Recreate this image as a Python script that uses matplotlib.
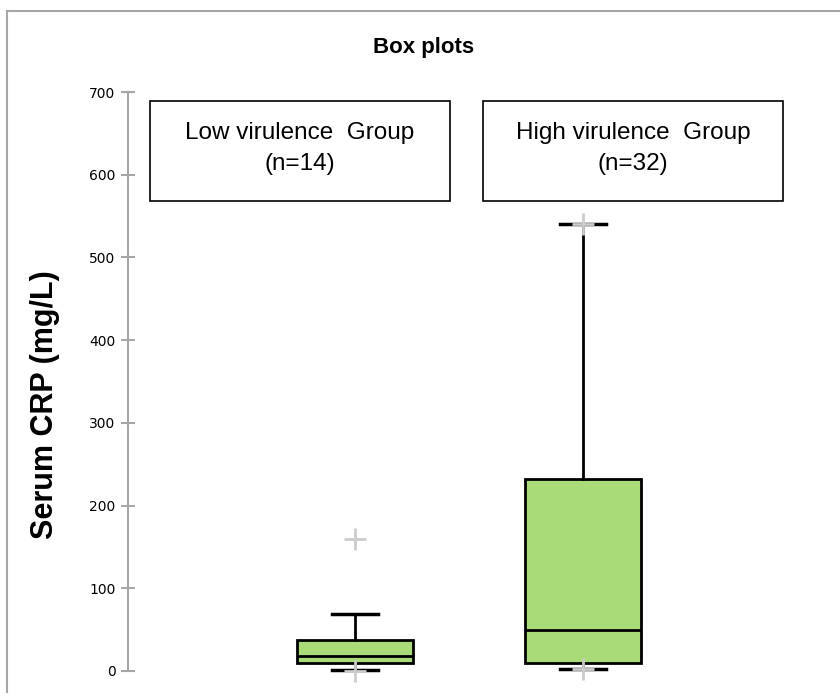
import matplotlib.pyplot as plt
from matplotlib.patches import Rectangle

# values (serum CRP, mg/L)
groups = ["Low virulence  Group\n(n=14)", "High virulence  Group\n(n=32)"]
q1 = [10, 10]
med = [18, 49]
q3 = [37, 232]
whislo = [1, 3]
whishi = [69, 540]
markers = [[160, 0], [540, 3]]   # grey min/max crosses
yticks = [0, 100, 200, 300, 400, 500, 600, 700]

fig = plt.figure(figsize=(8.4, 6.93), dpi=100)
W, H = 840, 693

# outer grey frame (runs off the right and bottom edges)
fig.patches.append(Rectangle((7 / W, -1), 2, 2 - 11 / H, transform=fig.transFigure,
                             fill=False, edgecolor='#a6a6a6', linewidth=1.5))

ax = fig.add_axes([128 / W, (H - 671) / H, (W - 128) / W, 579 / H])

stats = []
for i in range(2):
    stats.append(dict(med=med[i], q1=q1[i], q3=q3[i], whislo=whislo[i],
                      whishi=whishi[i], fliers=markers[i]))

ax.bxp(stats, positions=[1, 2], widths=0.51, patch_artist=True, showfliers=True,
       boxprops=dict(facecolor='#a9db78', edgecolor='black', linewidth=2),
       medianprops=dict(color='black', linewidth=2),
       whiskerprops=dict(color='black', linewidth=2),
       capprops=dict(color='black', linewidth=2.5),
       capwidths=0.2,
       flierprops=dict(marker='+', markersize=16, markeredgewidth=2,
                       markeredgecolor='#cccccc', linestyle='none'))
for a in ax.get_children():
    a.set_clip_on(False)

ax.set_xlim(0.004, 3.127)
ax.set_ylim(0, 700)
ax.set_yticks(yticks)
ax.set_yticklabels([str(t) for t in yticks], fontsize=10, family='DejaVu Sans')
ax.set_xticks([])
for s in ['top', 'right', 'bottom']:
    ax.spines[s].set_visible(False)
ax.spines['left'].set_color('#a6a6a6')
ax.spines['left'].set_linewidth(1.5)
ax.tick_params(axis='y', direction='inout', length=10, width=1.5, color='#a6a6a6', pad=4)

# group label boxes
for x0, lab in zip([0.1, 1.561], groups):
    ax.add_patch(Rectangle((x0, 568), 1.316, 121, facecolor='white',
                           edgecolor='black', linewidth=1.2, clip_on=False))
    ax.text(x0 + 0.658, 632, lab, ha='center', va='center', fontsize=17.5,
            family='Liberation Sans', linespacing=1.55)

fig.text(424 / W, 1 - 47 / H, "Box plots", ha='center', va='center',
         fontsize=16, fontweight='bold', family='Liberation Sans')
fig.text(45 / W, 1 - 405 / H, "Serum CRP (mg/L)", ha='center', va='center',
         rotation=90, fontsize=22, fontweight='bold', family='Liberation Sans')

fig.savefig("out.png", dpi=100)
